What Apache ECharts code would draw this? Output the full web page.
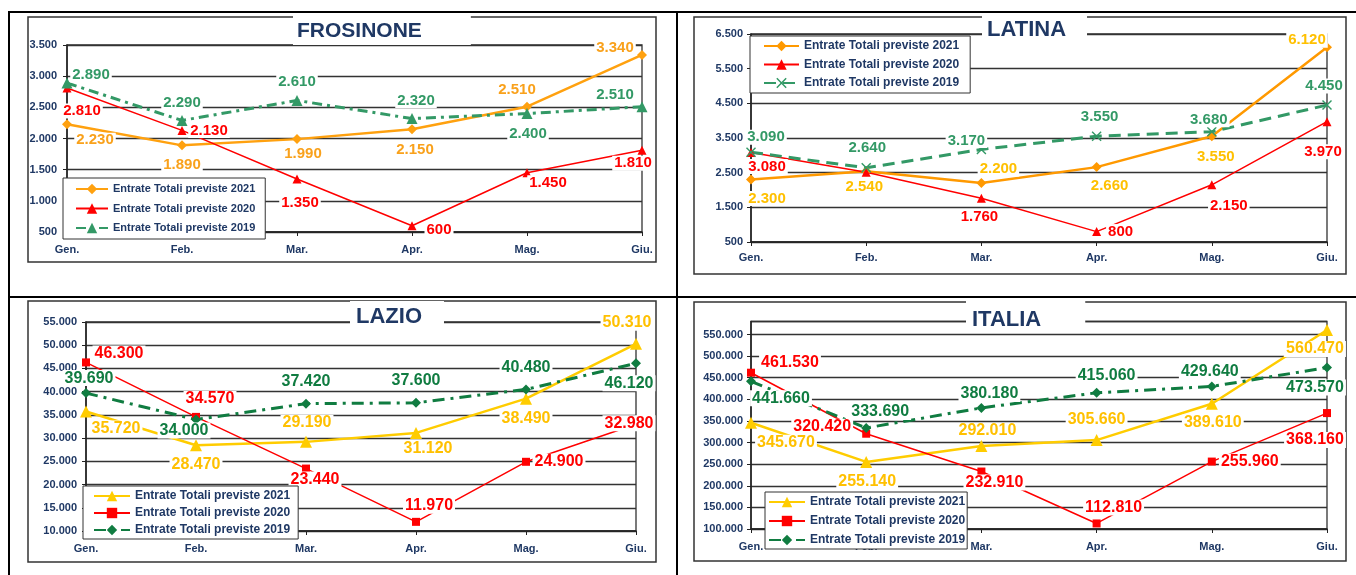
<!DOCTYPE html>
<html><head><meta charset="utf-8">
<script src="https://cdn.jsdelivr.net/npm/echarts@6/dist/echarts.min.js"></script>
<style>
html,body{margin:0;padding:0;background:#fff;width:1356px;height:575px;overflow:hidden;}
.c{position:absolute;left:0;top:0;width:1356px;height:575px;}
.ln{position:absolute;background:#000;}
</style></head><body>
<div class="ln" style="left:8px;top:11px;width:1348px;height:2px"></div>
<div class="ln" style="left:8px;top:296px;width:1348px;height:2px"></div>
<div class="ln" style="left:8px;top:11px;width:2px;height:564px"></div>
<div class="ln" style="left:676px;top:11px;width:2px;height:564px"></div>
<div id="c1" class="c"></div>
<div id="c2" class="c"></div>
<div id="c3" class="c"></div>
<div id="c4" class="c"></div>
<script>
// ---------- DATA ----------
const months = ['Gen.', 'Feb.', 'Mar.', 'Apr.', 'Mag.', 'Giu.'];
const seriesNames = ['Entrate Totali previste 2021', 'Entrate Totali previste 2020', 'Entrate Totali previste 2019'];

const frosinone2021 = [2230, 1890, 1990, 2150, 2510, 3340];
const frosinone2020 = [2810, 2130, 1350, 600, 1450, 1810];
const frosinone2019 = [2890, 2290, 2610, 2320, 2400, 2510];

const latina2021 = [2300, 2540, 2200, 2660, 3550, 6120];
const latina2020 = [3080, 2510, 1760, 800, 2150, 3970];
const latina2019 = [3090, 2640, 3170, 3550, 3680, 4450];

const lazio2021 = [35720, 28470, 29190, 31120, 38490, 50310];
const lazio2020 = [46300, 34570, 23440, 11970, 24900, 32980];
const lazio2019 = [39690, 34000, 37420, 37600, 40480, 46120];

const italia2021 = [345670, 255140, 292010, 305660, 389610, 560470];
const italia2020 = [461530, 320420, 232910, 112810, 255960, 368160];
const italia2019 = [441660, 333690, 380180, 415060, 429640, 473570];

// ---------- STYLE / LAYOUT ----------
const FONT = 'Liberation Sans, Arial, Helvetica, sans-serif';
const NAVY = '#1F3864';
const XSYM = 'path://M0,1L1,0L5,4L9,0L10,1L6,5L10,9L9,10L5,6L1,10L0,9L4,5Z';

const stylesTop = [
  {color:'#FFA10F', label:'#F9A11B', width:2.5, symbol:'diamond', size:10},
  {color:'#FF0000', label:'#FF0000', width:1.5, symbol:'triangle', size:9},
  {color:'#339966', label:'#339966', width:3, type:[10,5,3,5], symbol:'triangle', size:11}
];
const stylesLatina = [
  {color:'#FF9900', label:'#FFC000', width:2.5, symbol:'diamond', size:10},
  {color:'#FF0000', label:'#FF0000', width:1.5, symbol:'triangle', size:9},
  {color:'#339966', label:'#339966', width:3, type:[12,7], symbol:XSYM, size:10}
];
const stylesBottom = [
  {color:'#FFCC00', label:'#FFC000', width:2.5, symbol:'triangle', size:12},
  {color:'#FF0000', label:'#FF0000', width:1.5, symbol:'rect', size:8},
  {color:'#107C41', label:'#107C41', width:3, type:[12,6,3,6], symbol:'diamond', size:10}
];

const panels = [
  {
    id:'c1', data:[frosinone2021, frosinone2020, frosinone2019], styles: stylesTop,
    grid:{left:67, top:45, width:575, height:187}, frame:[28,17,628,245],
    yMin:500, yMax:3500, yInt:500, yMargin:10, xMargin:12,
    title:{text:'FROSINONE', left:293, top:15, padding:[5,49,3,4], fontSize:21},
    legend:{left:63, top:178, padding:[4,10,4,12], fs:11, iw:32, gap:5.5},
    labelFont:15,
    offsets:[
      [[28,16],[0,20],[6,15],[3,21],[-10,-17],[-27,-7]],
      [[15,23],[27,0],[3,24],[27,4],[21,10],[-9,13]],
      [[24,-8],[0,-18],[0,-19],[4,-18],[1,20],[-27,-12]]
    ]
  },
  {
    id:'c2', data:[latina2021, latina2020, latina2019], styles: stylesLatina,
    grid:{left:751, top:34, width:576, height:208}, frame:[694,17,652,257],
    yMin:500, yMax:6500, yInt:1000, yMargin:8, xMargin:10,
    title:{text:'LATINA', left:982, top:16, padding:[3,21,1,5], fontSize:22},
    legend:{left:750, top:36, padding:[3,11,3,13], fs:12, iw:35, gap:4.5},
    labelFont:15,
    offsets:[
      [[16,19],[-2,16],[17,-14],[13,19],[4,21],[-20,-7]],
      [[16,14],null,[-2,19],[24,0],[17,21],[-4,30]],
      [[15,-15],[1,-20],[-15,-9],[3,-19],[-3,-12],[-3,-19]]
    ]
  },
  {
    id:'c3', data:[lazio2021, lazio2020, lazio2019], styles: stylesBottom,
    grid:{left:86, top:322, width:550, height:209}, frame:[28,301,628,261],
    yMin:10000, yMax:55000, yInt:5000, yMargin:9, xMargin:12,
    title:{text:'LAZIO', left:350, top:301, padding:[5,22,0,6], fontSize:22},
    legend:{left:83, top:486, padding:[3,8,2,10], fs:12, iw:36, gap:3},
    labelFont:16,
    offsets:[
      [[30,17],[0,19],[1,-19],[12,16],[0,20],[-9,-21]],
      [[33,-9],[14,-18],[9,11],[13,-16],[33,0],[-7,-1]],
      [[3,-15],[-12,11],[0,-22],[0,-22],[0,-22],[-7,20]]
    ]
  },
  {
    id:'c4', data:[italia2021, italia2020, italia2019], styles: stylesBottom,
    grid:{left:751, top:321.5, width:576, height:207.5}, frame:[694,302,652,259],
    yMin:100000, yMax:580000, yInt:50000, yMargin:8, xMargin:12, hideMax:true,
    title:{text:'ITALIA', left:966, top:301, padding:[8,44,0,6], fontSize:22},
    legend:{left:765, top:492, padding:[3,2,2,3], fs:12, iw:36, gap:5},
    labelFont:16,
    offsets:[
      [[35,20],[1,20],[6,-15],[0,-21],[1,19],[-12,19]],
      [[39,-10],[-44,-7],[13,11],[17,-16],[38,0],[-12,27]],
      [[30,17],[14,-16],[8,-14],[10,-17],[-2,-15],[-12,20]]
    ]
  }
];

function fmt(v) { return String(Math.round(v)).replace(/\B(?=(\d{3})+(?!\d))/g, '.'); }

function build(P) {
  const chart = echarts.init(document.getElementById(P.id), null, {renderer:'canvas', width:1356, height:575});
  const series = P.data.map((vals, i) => {
    const st = P.styles[i];
    return {
      name: seriesNames[i], type:'line',
      data: vals.map((v, j) => {
        const off = P.offsets[i][j];
        return off ? {value:v, label:{offset:off}} : {value:v, label:{show:false}};
      }),
      symbol: st.symbol, symbolSize: st.size, showSymbol:true, showAllSymbol:true,
      itemStyle:{color: st.color},
      lineStyle:{color: st.color, width: st.width, type: st.type || 'solid'},
      label:{show:true, position:'inside', formatter: p => fmt(p.value), color: st.label,
             fontSize:P.labelFont, fontWeight:'bold', fontFamily:FONT,
             backgroundColor:'#fff', padding:[0,2]},
      emphasis:{disabled:true},
      z: 2
    };
  });
  const f = P.frame;
  chart.setOption({
    animation:false,
    textStyle:{fontFamily:FONT},
    graphic:{elements:[{type:'rect', silent:true, z:0,
      shape:{x:f[0], y:f[1], width:f[2], height:f[3]},
      style:{fill:'none', stroke:'#333', lineWidth:1.5}}]},
    title:{text:P.title.text, left:P.title.left, top:P.title.top, padding:P.title.padding,
      backgroundColor:'#fff', z:10,
      textStyle:{color:NAVY, fontWeight:'bold', fontSize:P.title.fontSize, lineHeight:22, fontFamily:FONT}},
    legend:{orient:'vertical', left:P.legend.left, top:P.legend.top, padding:P.legend.padding,
      itemGap:P.legend.gap, itemWidth:P.legend.iw, itemHeight:13,
      backgroundColor:'#fff', borderColor:'#333', borderWidth:1, borderRadius:0,
      selectedMode:false, z:8, data:seriesNames,
      textStyle:{color:NAVY, fontWeight:'bold', fontSize:P.legend.fs, fontFamily:FONT, lineHeight:14}},
    grid:{left:P.grid.left, top:P.grid.top, width:P.grid.width, height:P.grid.height,
      show:true, borderColor:'#333', borderWidth:1.3, backgroundColor:'transparent'},
    xAxis:{type:'category', data:months, boundaryGap:false,
      axisLine:{lineStyle:{color:'#222', width:1.5}},
      axisTick:{show:true, length:4, lineStyle:{color:'#222'}},
      axisLabel:{color:NAVY, fontWeight:'bold', fontSize:11, margin:P.xMargin, fontFamily:FONT}},
    yAxis:{type:'value', min:P.yMin, max:P.yMax, interval:P.yInt,
      axisLine:{show:true, lineStyle:{color:'#222', width:1.5}},
      axisTick:{show:true, length:4, lineStyle:{color:'#222'}},
      splitLine:{show:true, lineStyle:{color:'#333', width:1.3}},
      axisLabel:{color:NAVY, fontWeight:'bold', fontSize:11, margin:P.yMargin, fontFamily:FONT,
        showMaxLabel: !P.hideMax,
        formatter: v => (P.hideMax && v >= P.yMax) ? '' : fmt(v)}},
    series: series
  });
}
panels.forEach(build);
</script>
</body></html>
